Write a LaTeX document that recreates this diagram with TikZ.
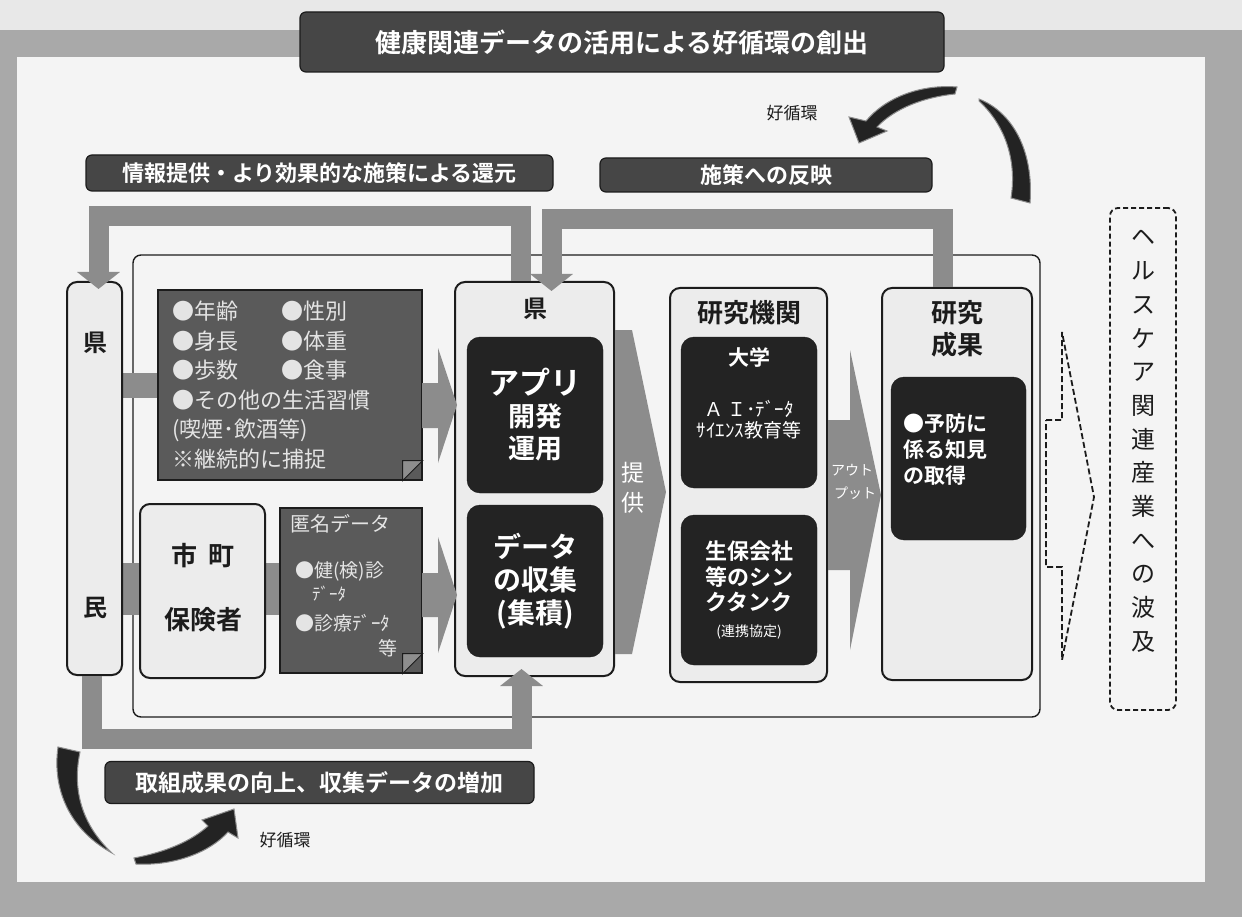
\documentclass[tikz,border=0pt]{standalone}
\usepackage{fontspec}
\setmainfont{Noto Sans CJK JP}[BoldFont={Noto Sans CJK JP Bold}]
\usepackage{tikz}
\usetikzlibrary{positioning, arrows.meta, shapes.misc, calc}
\definecolor{figFrame}{HTML}{A9A9A9}
\definecolor{figPaper}{HTML}{E8E8E8}
\definecolor{figPanel}{HTML}{F4F4F4}
\definecolor{figBox}{HTML}{ECECEC}
\definecolor{figLine}{HTML}{1C1C1C}
\definecolor{figDark}{HTML}{232323}
\definecolor{figData}{HTML}{5A5A5A}
\definecolor{figFold}{HTML}{8E8E8E}
\definecolor{figTag}{HTML}{464646}
\definecolor{figBand}{HTML}{8C8C8C}
\definecolor{figSoft}{HTML}{E4E4E4}
\newcommand{\figfs}[2]{\fontsize{#1}{#2}\selectfont}

\begin{document}
\begin{tikzpicture}[x=1pt, y=-1pt,
  lightBox/.style={draw=figLine, line width=2pt, fill=figBox, rounded corners=10pt, inner sep=0pt},
  darkBox/.style={fill=figDark, draw=figLine, rounded corners=13pt, text=white, font=\bfseries, align=center, inner sep=0pt},
  dataBox/.style={chamfered rectangle, chamfered rectangle corners=south east, chamfered rectangle sep=20pt, fill=figData, draw=figLine, line width=1.2pt, inner sep=0pt},
  tagBox/.style={fill=figTag, draw=figLine, line width=1.2pt, rounded corners=6pt, text=white, font=\bfseries, inner sep=0pt},
  headText/.style={text=figLine, font=\bfseries, align=center, inner sep=0pt},
  dataText/.style={text=figSoft, align=left, inner sep=0pt},
  flowBand/.style={draw=figBand, line width=20pt, line join=miter, -{Triangle[width=42pt,length=17pt]}},
  flowBlock/.style={fill=figBand},
  loopArrow/.style={fill=figDark, draw=figBand, line width=1pt}
]
  \useasboundingbox (0,0) rectangle (1242,917);
  % background frame and panel
  \fill[figFrame] (0,0) rectangle (1242,917);
  \fill[figPaper] (0,0) rectangle (1242,30);
  \fill[figPanel] (17,57) rectangle (1205,882);
  \draw[figLine, line width=1.4pt, rounded corners=8pt] (133,255) rectangle (1040,717);

  % bands behind the left boxes
  \fill[flowBlock] (122,373) rectangle (160,398);
  \fill[flowBlock] (122,563) rectangle (282,615);

  % boxes
  \node[lightBox, minimum width=55, minimum height=393] (prefRes) at (94.5,478.5) {};
  \node[headText, font=\bfseries\figfs{24}{28}] (prefResA) at (95,343) {県};
  \node[headText, font=\bfseries\figfs{24}{28}] (prefResB) at (95,608) {民};

  \node[dataBox, minimum width=264, minimum height=190] (habitData) at (290,385) {};
  \node[dataText, font=\figfs{22}{29.5}, anchor=north west] (habitText) at (172,301)
    {\makebox[109pt][l]{●年齢}●性別\\\makebox[109pt][l]{●身長}●体重\\\makebox[109pt][l]{●歩数}●食事\\●その他の生活習慣\\(喫煙･飲酒等)\\※継続的に捕捉};

  \node[lightBox, minimum width=125, minimum height=174] (cityIns) at (202.5,591) {};
  \node[headText, font=\bfseries\figfs{26}{30}] (cityA) at (203,556) {市\hspace{12pt}町};
  \node[headText, font=\bfseries\figfs{26}{30}] (cityB) at (203,620) {保険者};

  \node[dataBox, minimum width=142, minimum height=165] (anonData) at (351,590.5) {};
  \node[dataText, font=\figfs{20}{24}, anchor=west] (anonA) at (290,524) {匿名データ};
  \node[dataText, font=\figfs{19}{24}, anchor=west] (anonB) at (295,571) {●健(検)診};
  \node[dataText, font=\figfs{17}{24}, anchor=west] (anonC) at (312,594) {ﾃﾞｰﾀ};
  \node[dataText, font=\figfs{19}{24}, anchor=west] (anonD) at (295,623) {●診療ﾃﾞｰﾀ};
  \node[dataText, font=\figfs{19}{24}, anchor=east] (anonE) at (398,648) {等};

  \foreach \foldbox in {habitData, anonData} {
    \fill[figFold, draw=figLine, line width=0.8pt]
      ($(\foldbox.east |- \foldbox.south)+(0,-20)$) -- ($(\foldbox.east |- \foldbox.south)+(-20,-20)$)
      -- ($(\foldbox.east |- \foldbox.south)+(-20,0)$) -- cycle;
  }

  \node[lightBox, minimum width=159, minimum height=394] (prefBox) at (534.5,479) {};
  \node[headText, font=\bfseries\figfs{24}{28}] (prefTitle) at (535,309) {県};
  \node[darkBox, minimum width=136, minimum height=156, font=\bfseries\figfs{27}{32}] (appDev) at (535,415)
    {{\figfs{31}{32}アプリ}\\開発\\運用};
  \node[darkBox, minimum width=136, minimum height=152, font=\bfseries\figfs{28}{33}] (dataCol) at (535,581)
    {データ\\の収集\\(集積)};

  \node[lightBox, minimum width=157, minimum height=394] (research) at (748.5,485) {};
  \node[headText, font=\bfseries\figfs{26}{30}] (researchTitle) at (749,313) {研究機関};
  \node[darkBox, minimum width=136, minimum height=151] (univ) at (749,412.5) {};
  \node[text=white, font=\bfseries\figfs{21}{24}, inner sep=0pt] (univTitle) at (749,357) {大学};
  \node[text=white, font=\figfs{19}{21}, align=center, inner sep=0pt] (univText) at (749,420)
    {Ａ Ｉ･ﾃﾞｰﾀ\\ｻｲｴﾝｽ教育等};
  \node[darkBox, minimum width=136, minimum height=150, font=\bfseries\figfs{22}{25.5}] (thinkTank) at (749,590)
    {生保会社\\等のシン\\クタンク\\{\mdseries\figfs{14}{22}(連携協定)}};

  \node[lightBox, minimum width=150, minimum height=392] (results) at (957,484) {};
  \node[headText, font=\bfseries\figfs{26}{32}] (resultsTitle) at (957,329) {研究\\成果};
  \node[darkBox, minimum width=135, minimum height=163] (knowledge) at (958.5,458.5) {};
  \node[text=white, font=\bfseries\figfs{21}{26}, align=left, inner sep=0pt, anchor=north west] (knowText) at (903,413)
    {●予防に\\係る知見\\の取得};

  \node[draw=figLine, dashed, dash pattern=on 5pt off 3pt, line width=1.8pt, rounded corners=8pt,
        fill=figPanel, minimum width=66, minimum height=502, inner sep=0pt] (industry) at (1143,459) {};
  \node[text=figLine, font=\figfs{24}{33.7}, align=center, inner sep=0pt, anchor=north] (industryText) at (1143,230)
    {ヘ\\ル\\ス\\ケ\\ア\\関\\連\\産\\業\\へ\\の\\波\\及};

  % block arrows between the boxes
  \fill[flowBlock] (422,383) -- (438,383) -- (438,348) -- (457,405) -- (438,463) -- (438,428) -- (422,428) -- cycle;
  \fill[flowBlock] (422,573) -- (438,573) -- (438,537) -- (457,595) -- (438,653) -- (438,617) -- (422,617) -- cycle;
  \fill[flowBlock] (prefBox.east |- 0,330) -- (632,330) -- (666,492) -- (632,654) -- (prefBox.east |- 0,654) -- cycle;
  \node[text=white, font=\figfs{23}{30}, align=center, inner sep=0pt] (offerText) at (633,488) {提\\供};
  \fill[flowBlock] (research.east |- 0,420) -- (850,420) -- (850,350) -- (881,495) -- (850,650) -- (850,570) -- (research.east |- 0,570) -- cycle;
  \node[text=white, font=\figfs{14}{23}, align=center, inner sep=0pt] (outText) at (852,482) {アウト\\\hspace{6pt}プット};
  \draw[figLine, dashed, dash pattern=on 6pt off 3pt, line width=1.8pt, fill=figPanel]
    (1046,420) -- (1062,420) -- (1062,332) -- (1094,497) -- (1062,660) -- (1062,567) -- (1046,567) -- cycle;

  % feedback bands
  \draw[flowBand] ($(prefBox.north)+(-14,0)$) |- (300,216) -| ($(prefRes.north)+(4,8)$);
  \draw[flowBand] ($(results.north)+(-14,0)$) |- (750,219) -| ($(prefBox.north)+(17,10)$);
  \draw[flowBand] ($(prefRes.south)+(-3,0)$) |- (300,739) -| ($(prefBox.south)+(-13,-8)$);

  % tags and title
  \node[tagBox, minimum width=644, minimum height=60, font=\bfseries\figfs{26}{30}] (title) at (622,42)
    {健康関連データの活用による好循環の創出};
  \node[tagBox, minimum width=467, minimum height=36, font=\bfseries\figfs{22}{26}] (tagFeed) at (319.5,173)
    {情報提供・より効果的な施策による還元};
  \node[tagBox, minimum width=332, minimum height=34, font=\bfseries\figfs{22}{26}] (tagPolicy) at (766,175)
    {施策への反映};
  \node[tagBox, minimum width=429, minimum height=42, font=\bfseries\figfs{23}{26}] (tagGain) at (319.5,782.5)
    {取組成果の向上、収集データの増加};

  % cycle arrows
  \fill[loopArrow] (957,87) .. controls (920,84) and (885,98) .. (866,121) -- (849,117) -- (859,143)
    -- (887,131) -- (877,127) .. controls (895,108) and (925,97) .. (955,94) -- cycle;
  \fill[loopArrow] (979,99) .. controls (1012,112) and (1034,150) .. (1030,203) -- (1011,198)
    .. controls (1017,160) and (1005,125) .. (979,101) -- cycle;
  \node[text=figLine, font=\figfs{17}{20}, inner sep=0pt] (loopTop) at (792,113) {好循環};
  \fill[loopArrow] (58,747) .. controls (52,790) and (70,830) .. (112,853)
    .. controls (82,825) and (72,790) .. (80,752) -- cycle;
  \fill[loopArrow] (134,858) .. controls (165,852) and (190,842) .. (208,826) -- (202,820) -- (234,809)
    -- (238,838) -- (228,832) .. controls (210,852) and (175,866) .. (136,864) -- cycle;
  \node[text=figLine, font=\figfs{17}{20}, inner sep=0pt] (loopBottom) at (285,840) {好循環};
\end{tikzpicture}
\end{document}
